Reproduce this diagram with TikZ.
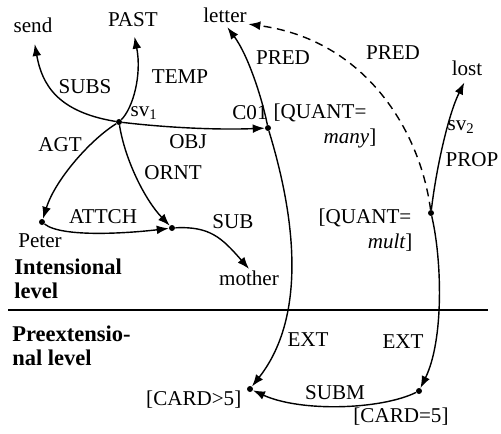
\documentclass[tikz,border=0pt]{standalone}
\usepackage{fontspec}
\setmainfont{Liberation Serif}
\usetikzlibrary{arrows.meta}
\newcommand{\lblsize}{\fontsize{15}{16.5}\selectfont}
\newcommand{\lvlsize}{\fontsize{16}{17}\selectfont}
\tikzset{
  dot/.style={circle, fill=black, inner sep=0pt, minimum size=1.5mm},
  lbl/.style={font=\lblsize, inner sep=1pt},
  lvl/.style={font=\lvlsize\bfseries, align=left, anchor=north west, inner sep=0pt},
  arr/.style={-{Latex[length=3mm, width=2.2mm]}, line width=1pt},
  darr/.style={arr, dash pattern=on 2mm off 1.4mm},
}

\begin{document}
\begin{tikzpicture}[x=0.25mm,y=-0.25mm]
\useasboundingbox (0,0) rectangle (501,434);
% ================= concept nodes =================
\node[dot] (sv1) at (119,122) {};
\node[dot] (c01) at (268,128) {};
\node[dot] (peter) at (42,222) {};
\node[dot] (att) at (172,228) {};
\node[dot] (qm) at (431,213) {};
\node[dot] (card5) at (250,389) {};
\node[dot] (cardeq) at (419,391) {};
% ================= intensional level =================
\node[lbl] (send) at (33,25) {send};
\node[lbl] (past) at (133,20) {PAST};
\node[lbl] (letter) at (225,15) {letter};
\node[lbl] (lost) at (467,68) {lost};
\node[lbl] (subs) at (85,87) {SUBS};
\node[lbl] (temp) at (180,77) {TEMP};
\node[lbl] (sv1l) at (144,113) {sv\textsubscript{1}};
\node[lbl] (c01l) at (250,113) {C01};
\node[lbl, anchor=west] (qa) at (272,113) {[QUANT=};
\node[lbl, anchor=east] (qb) at (378,138) {\itshape many\upshape]};
\node[lbl] (obj) at (188,142) {OBJ};
\node[lbl] (agt) at (60,145) {AGT};
\node[lbl] (ornt) at (173,173) {ORNT};
\node[lbl] (pred1) at (283,58) {PRED};
\node[lbl] (pred2) at (393,53) {PRED};
\node[lbl] (sv2l) at (461,127) {sv\textsubscript{2}};
\node[lbl] (prop) at (472,160) {PROP};
\node[lbl, anchor=east] (qc) at (413,218) {[QUANT=};
\node[lbl, anchor=east] (qd) at (414,243) {\itshape mult\upshape]};
\node[lbl] (peterl) at (40,241) {Peter};
\node[lbl] (attch) at (103,217) {ATTCH};
\node[lbl] (sub) at (233,222) {SUB};
\node[lbl] (mother) at (249,278) {mother};
\node[lvl] (intl) at (14,259) {Intensional\\level};
% ================= preextensional level =================
\draw[line width=1pt] (8,310) -- (488,310);
\node[lvl] (prel) at (12,326) {Preextensio-\\nal level};
\node[lbl, anchor=east] (card5l) at (243,400) {[CARD>5]};
\node[lbl] (cardeql) at (401,417) {[CARD=5]};
\node[lbl] (ext1) at (308,340) {EXT};
\node[lbl] (ext2) at (403,342) {EXT};
\node[lbl] (subm) at (335,393) {SUBM};
% ================= arcs =================
\draw[arr, shorten >=2.5mm] (sv1) .. controls (58,112) and (42,85) .. (send.south);
\draw[arr, shorten >=2mm] (sv1) .. controls (133,108) and (142,75) .. (past.south);
\draw[arr] (sv1) .. controls (170,128) and (220,130) .. (c01);
\draw[arr] (sv1) .. controls (90,140) and (55,180) .. (peter);
\draw[arr] (sv1) .. controls (125,160) and (145,200) .. (att);
\draw[arr] (peter) .. controls (62,238) and (130,233) .. (att);
\draw[arr] (att) .. controls (210,226) and (222,238) .. (mother.north);
\draw[arr, shorten >=1mm] (c01) .. controls (262,98) and (248,55) .. (letter.south);
\draw[arr] (c01) .. controls (290,200) and (312,310) .. (card5);
\draw[arr, shorten >=1.5mm] (qm) .. controls (436,170) and (448,115) .. (lost.south);
\draw[darr] (qm) .. controls (420,130) and (365,40) .. (letter.south east);
\draw[arr] (qm) .. controls (442,260) and (444,340) .. (cardeq);
\draw[arr] (cardeq) .. controls (380,410) and (300,412) .. (card5);
\end{tikzpicture}
\end{document}
